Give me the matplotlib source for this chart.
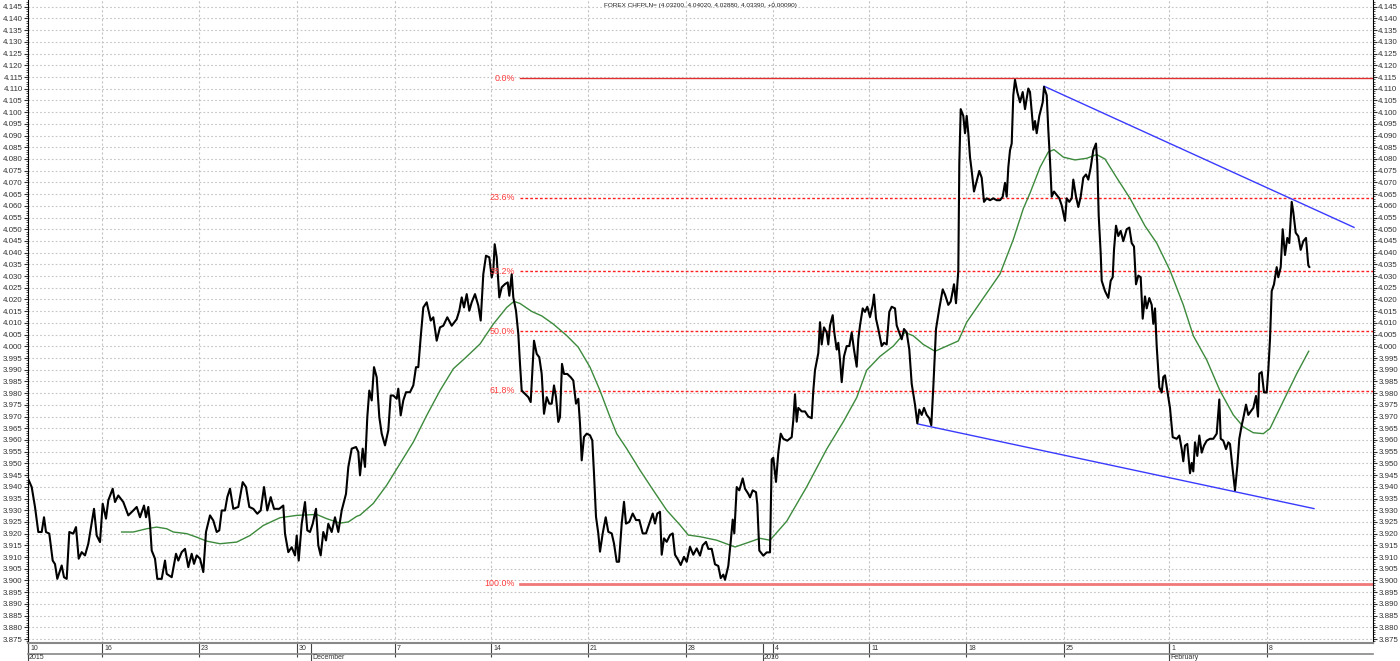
import numpy as np
import matplotlib
matplotlib.use('Agg')
import matplotlib.pyplot as plt
import matplotlib.transforms as mtransforms
from matplotlib.ticker import MultipleLocator, FormatStrFormatter

plt.rcParams['font.family'] = ['Liberation Sans', 'DejaVu Sans']

# bar positions (horizontal chart units) and CHFPLN price
price_x = [0, 3.7, 7, 10.3, 13.7, 16, 18, 21.3, 24.7, 27, 29.3, 33.7, 36, 38.7, 41.3, 45.3, 48, 50.7,
           53.7, 57, 60.3, 66, 68.7, 72, 74.7, 78, 80.3, 84.7, 87, 90.3, 95.3, 100.3, 105.3, 108.7, 112,
           116, 118, 120.3, 122, 123.7, 127, 129.3, 133.7, 137, 138.7, 143.7, 148, 150.3, 153.7, 157,
           160.3, 163.7, 166, 168.7, 172, 175.3, 178, 182, 185.3, 188.7, 191.3, 193.7, 197, 199.3, 202,
           205.3, 210.3, 214.7, 218, 221.3, 225.3, 229.3, 232.7, 236, 239.3, 242.7, 246, 251.3, 255.3,
           257, 260.3, 263.7, 267, 268.7, 270.7, 273.7, 277, 279.3, 282, 284.7, 288, 290.3, 292.7, 295.3,
           298, 300.3, 303.7, 307, 310.3, 313.7, 318, 320.3, 323.7, 328, 330.3,
           332, 334.7, 337, 339.3, 341.3, 343.7, 346, 348.7, 351.3, 353.7, 357, 360.3, 362.7, 365.3,
           368.7, 370.3, 372.7, 375.3, 378, 382, 385.3, 388, 390.3, 392.7, 395.3, 398.7, 402.7, 405.3,
           408.7, 412, 415.3, 419.3, 423.7, 428.7, 431.3, 433.7, 436, 438.7, 441.3, 443.7, 447, 450.3,
           452.7, 455.3, 458, 461.3, 463.7, 465.3, 466.7, 468.7, 471.3, 473.7, 477, 479.7, 481.3, 483.7,
           485.3, 488, 490.3, 492, 493.7, 497, 500.3, 502.7, 504.7, 506, 508.7, 511.3, 513.7, 516,
           518.7, 521.3, 523.7, 526, 528, 530.3, 532, 534, 536, 539.3, 542.7, 545.3, 548, 550.3, 552,
           553.7, 556, 558.7, 562, 564.3, 566, 568, 570.3, 572, 574.7, 577.7, 580.3, 583.7, 586, 588.7,
           591, 593.7, 596, 598, 601.3, 604.7, 608, 611.3, 614.7, 618, 621.3, 624.7, 627, 629.3, 632,
           633.7, 636, 638.7, 642, 644.7, 647, 650.3, 652.7, 656, 658.7, 662, 665.3, 668.7,
           672, 674.7, 678, 680.3, 683.7, 687, 690.3, 692.7, 695.3, 697, 700.3, 702.7, 704.7, 706.3,
           708.7, 711.3, 714.7, 717, 720.3, 722, 724.7, 728, 729.3, 731.3, 735.3, 738.7, 742, 743.7,
           745.3, 748, 750.3, 752.7, 755.3, 759.3, 763.7, 765.3, 767, 768.7, 770.3, 773.7, 777, 780.3,
           783.7, 785.3, 787, 790.3, 792, 793.7, 796, 798.7, 800.3, 802, 804.7, 806.3, 808.7, 810.3,
           812, 813.7, 816, 818.7, 821.3, 823.7, 826, 828.7, 830.3, 832, 834.7, 837, 839.3, 842, 844.7,
           846, 848, 850.3, 853.7, 856, 858.7, 861.3, 863.7, 867, 868.7, 871.3, 873.7, 876, 878.7,
           881.3, 883.7, 887, 889.3, 891.3, 893.7, 896, 898.7, 901.3, 903.3, 905.3, 908, 911.3, 914.7,
           917, 920.3, 922.7, 926, 928, 930.3, 931.3, 932.7, 935.3, 937, 938.7, 940.3, 942, 943.7, 946,
           948.7, 951.3, 953.7, 956, 958.7, 962, 965.3, 968.7, 972, 974.7, 977, 978.7, 980.3, 982,
           983.7, 985.3, 987, 989.3, 992, 994.7, 997, 1000.3,
           1002, 1005.3, 1007, 1008.7, 1011.3, 1014.7, 1016, 1018.7, 1020.3, 1022, 1023.7, 1026,
           1028.7, 1031.3, 1033.7, 1037, 1038.7, 1041.3, 1043.7, 1045.3, 1048, 1050.3, 1052.7, 1055.3,
           1058, 1060.3, 1062.7, 1065.3, 1068, 1069.3, 1070.7, 1072.7, 1073.7, 1077, 1080.3, 1082.7,
           1084.7, 1086, 1088, 1090.3, 1092.7, 1095.3, 1098.7, 1101.3, 1103.7, 1106, 1108, 1110.3,
           1112.7, 1114.7, 1117, 1118.7, 1121.3, 1123.7, 1125.3, 1127, 1128.7, 1131.3, 1133.7, 1135.3,
           1137, 1139.3, 1142, 1144.7, 1148.7, 1151.3, 1153.7, 1155.3, 1157, 1159.3, 1162, 1163.7,
           1165.3, 1167, 1169.3, 1171.3, 1173.7, 1176, 1178.7, 1182, 1185.3, 1188.7, 1191.3, 1192.7,
           1195.3, 1198, 1200.3, 1202, 1204.7, 1207, 1209.3, 1211.3, 1213.7, 1215.3, 1218, 1220.3,
           1222.7, 1225.3, 1228, 1230, 1231.3, 1233.7, 1236, 1238.7, 1240.3, 1242, 1243.7, 1246,
           1248.7, 1250.3, 1252.7, 1254.7, 1257, 1259.3, 1261.3, 1263.7, 1265.3, 1267.7, 1270.3,
           1272.7, 1275.3, 1278, 1280.3, 1281.3]
price_y = [3.9435, 3.9399, 3.9314, 3.9207, 3.9207, 3.9270, 3.9207, 3.9200, 3.9085, 3.9070, 3.9007,
           3.9064, 3.9014, 3.9007, 3.9207, 3.9200, 3.9228, 3.9093, 3.9121, 3.9107, 3.9157, 3.9306,
           3.9192, 3.9164, 3.9328, 3.9264, 3.9342, 3.9392, 3.9335, 3.9363, 3.9335, 3.9278, 3.9299,
           3.9314, 3.9270, 3.9320, 3.9270, 3.9314, 3.9242, 3.9128, 3.9093, 3.9007, 3.9007, 3.9085,
           3.9028, 3.9014, 3.9114, 3.9085, 3.9121, 3.9135, 3.9057, 3.9114, 3.9071, 3.9107, 3.9093,
           3.9036, 3.9207, 3.9278, 3.9256, 3.9207, 3.9214, 3.9299, 3.9299, 3.9356, 3.9392, 3.9306,
           3.9314, 3.9420, 3.9399, 3.9314, 3.9306, 3.9285, 3.9299, 3.9399, 3.9299, 3.9356, 3.9306,
           3.9306, 3.9320, 3.9200, 3.9121, 3.9142, 3.9107, 3.9192, 3.9085, 3.9242, 3.9335, 3.9214,
           3.9207, 3.9242, 3.9306, 3.9150, 3.9107, 3.9207, 3.9171, 3.9242, 3.9207, 3.9270, 3.9207,
           3.9299, 3.9370, 3.9484, 3.9563, 3.9570, 3.9549,
           3.9449, 3.9563, 3.9485, 3.9698, 3.9811, 3.9769, 3.9911, 3.9868, 3.9698, 3.9627, 3.9577,
           3.9641, 3.9790, 3.9790, 3.9776, 3.9819, 3.9705, 3.9769, 3.9804, 3.9804, 3.9833, 3.9911,
           3.9911, 4.0039, 4.0166, 4.0188, 4.0110, 4.0124, 4.0024, 4.0081, 4.0088, 4.0124, 4.0088,
           4.0116, 4.0152, 4.0209, 4.0166, 4.0223, 4.0152, 4.0188, 4.0223, 4.0174, 4.0110, 4.0308,
           4.0387, 4.0380, 4.0294, 4.0323, 4.0436, 4.0380, 4.0209, 4.0252, 4.0266, 4.0273, 4.0216,
           4.0308, 4.0209, 4.0152, 4.0053, 3.9925, 3.9811, 3.9797, 3.9783, 3.9762, 3.9925, 4.0024,
           3.9968, 3.9953, 3.9882, 3.9712, 3.9783, 3.9755, 3.9755, 3.9833, 3.9783, 3.9677, 3.9698,
           3.9925, 3.9882, 3.9882, 3.9868, 3.9854, 3.9755, 3.9776, 3.9669, 3.9513, 3.9613, 3.9627,
           3.9620, 3.9598, 3.9456, 3.9272, 3.9201, 3.9123, 3.9201, 3.9270, 3.9208, 3.9201, 3.9158,
           3.9080, 3.9080, 3.9243, 3.9336, 3.9243, 3.9250, 3.9286, 3.9258, 3.9258, 3.9201, 3.9201,
           3.9243, 3.9286, 3.9243, 3.9286, 3.9293, 3.9110, 3.9180, 3.9165, 3.9194, 3.9201, 3.9110,
           3.9087, 3.9066, 3.9101, 3.9080, 3.9144, 3.9110, 3.9137,
           3.9106, 3.9150, 3.9165, 3.9135, 3.9135, 3.9069, 3.9062, 3.9010, 3.9025, 3.9003, 3.9062,
           3.9165, 3.9260, 3.9201, 3.9399, 3.9385, 3.9436, 3.9392, 3.9370, 3.9355, 3.9385, 3.9377,
           3.9326, 3.9128, 3.9106, 3.9120, 3.9120, 3.9517, 3.9524, 3.9421, 3.9546, 3.9627, 3.9605,
           3.9597, 3.9612, 3.9685, 3.9795, 3.9678, 3.9737, 3.9722, 3.9722, 3.9700, 3.9693, 3.9810,
           3.9898, 3.9971, 4.0103, 4.0008, 4.0081, 4.0059, 4.0008, 4.0089, 4.0133, 4.0059, 3.9986,
           4.0015, 3.9942, 3.9847, 3.9957, 4.0001, 4.0001, 4.0059, 3.9986, 3.9913, 4.0030, 4.0089,
           4.0162, 4.0147, 4.0169, 4.0125, 4.0177, 4.0221, 4.0118, 4.0074, 4.0001, 4.0015, 4.0008,
           4.0147, 4.0169, 4.0162, 4.0089, 4.0059, 4.0030, 4.0074, 4.0059, 3.9986, 3.9840, 3.9751,
           3.9671, 3.9730, 3.9707, 3.9737, 3.9707, 3.9693, 3.9663, 3.9825, 4.0074, 4.0162, 4.0243,
           4.0221, 4.0177, 4.0191, 4.0265, 4.0184, 4.0323, 4.0778, 4.1013, 4.0984, 4.0910, 4.0984,
           4.0910, 4.0808, 4.0749, 4.0661, 4.0705, 4.0749, 4.0720, 4.0617, 4.0632, 4.0624, 4.0632,
           4.0624, 4.0624, 4.0639, 4.0698, 4.0639, 4.0764, 4.0837, 4.0866, 4.1072, 4.1138, 4.1086,
           4.1042, 4.1086, 4.1013, 4.1101,
           4.1086, 4.0925, 4.0962, 4.0910, 4.0984, 4.1042, 4.1108, 4.1072, 4.0925, 4.0793, 4.0639,
           4.0661, 4.0646, 4.0632, 4.0602, 4.0536, 4.0632, 4.0617, 4.0632, 4.0712, 4.0639, 4.0595,
           4.0639, 4.0720, 4.0734, 4.0712, 4.0764, 4.0837, 4.0866, 4.0778, 4.0558, 4.0397, 4.0280,
           4.0236, 4.0207, 4.0280, 4.0295, 4.0412, 4.0515, 4.0471, 4.0493, 4.0449, 4.0500, 4.0507,
           4.0441, 4.0426, 4.0265, 4.0302, 4.0295, 4.0118, 4.0213, 4.0162, 4.0206, 4.0177, 4.0096,
           4.0162, 4.0001, 3.9825, 3.9803, 3.9869, 3.9876, 3.9810, 3.9737, 3.9612, 3.9605, 3.9619,
           3.9561, 3.9509, 3.9576, 3.9583, 3.9458, 3.9502, 3.9466, 3.9590, 3.9532, 3.9619, 3.9546,
           3.9576, 3.9597, 3.9605, 3.9605, 3.9627, 3.9773, 3.9605, 3.9597, 3.9561, 3.9590, 3.9583,
           3.9473, 3.9385, 3.9488, 3.9605, 3.9663, 3.9693, 3.9751, 3.9707, 3.9722, 3.9737, 3.9788,
           3.9700, 3.9883, 3.9890, 3.9803, 3.9803, 3.9898, 4.0030, 4.0236, 4.0265, 4.0338, 4.0295,
           4.0338, 4.0500, 4.0390, 4.0463, 4.0441, 4.0617, 4.0573, 4.0485, 4.0470, 4.0412, 4.0449,
           4.0463, 4.0346, 4.0339]

# moving average (green)
ma_x = [93.7, 105.3, 118.7, 128.7, 138.7, 145.3, 158.7, 168.7, 178.7, 192, 208.7, 222, 235.3, 252,
        268.7, 288.7, 298.7, 312, 320.3, 328.7,
        332, 345.3, 358.7, 372, 385.3, 398.7, 412, 425.3, 438.7, 452, 465.3, 478.7, 486, 492, 503.7,
        513.7, 525.3, 538.7, 550.3, 562, 572, 582, 588.7, 598.7, 612, 625.3, 638.7, 652, 660.3,
        672, 688.7, 707, 722, 732, 742, 758.7, 778.7, 798.7, 815.3, 828.7, 838.7, 852, 865.3, 877,
        885.3, 895.3, 907, 918.7, 930.3, 938.7, 955.3, 972, 985.3, 995.3,
        1002, 1012, 1020.3, 1026, 1035.3, 1047, 1058.7, 1068.7, 1077, 1088.7, 1102, 1117, 1128.7,
        1142, 1155.3, 1165.3, 1178.7, 1192, 1205.3, 1215.3, 1225.3, 1235.3, 1242, 1255.3, 1268.7,
        1280.7]
ma_y = [3.9207, 3.9207, 3.9221, 3.9228, 3.9221, 3.9207, 3.9200, 3.9185, 3.9168, 3.9157, 3.9164,
        3.9192, 3.9235, 3.9268, 3.9278, 3.9282, 3.9264, 3.9245, 3.9250, 3.9274,
        3.9279, 3.9329, 3.9407, 3.9499, 3.9591, 3.9705, 3.9811, 3.9904, 3.9956, 4.0010, 4.0095,
        4.0166, 4.0192, 4.0183, 4.0149, 4.0130, 4.0095, 4.0046, 3.9996, 3.9911, 3.9811, 3.9698,
        3.9627, 3.9563, 3.9471, 3.9385, 3.9300, 3.9237, 3.9194,
        3.9187, 3.9172, 3.9143, 3.9165, 3.9180, 3.9172, 3.9253, 3.9400, 3.9561, 3.9678, 3.9781,
        3.9898, 3.9957, 4.0001, 4.0059, 4.0045, 4.0008, 3.9979, 4.0001, 4.0023, 4.0103, 4.0206,
        4.0309, 4.0456, 4.0588,
        4.0654, 4.0764, 4.0830, 4.0840, 4.0808, 4.0796, 4.0803, 4.0819, 4.0800, 4.0720, 4.0632,
        4.0514, 4.0441, 4.0324, 4.0177, 4.0045, 3.9942, 3.9810, 3.9707, 3.9656, 3.9631, 3.9627,
        3.9649, 3.9766, 3.9883, 3.9979]

# trend lines
upper_x = [1016, 1326]
upper_y = [4.1111, 4.0508]
lower_x = [890.3, 1286]
lower_y = [3.9668, 3.9307]

# fibonacci retracement
fib_high = 4.1145
fib_low = 3.8985
fib_ratios = [0.0, 0.236, 0.382, 0.5, 0.618, 1.0]
fib_start = 492

# x axis labels
week_pos = [0, 74, 171, 269, 367, 463, 560, 658, 745, 841, 938, 1036, 1141, 1239]
week_labels = ['10', '16', '23', '30', '7', '14', '21', '28', '4', '11', '18', '25', '1', '8']
period_pos = [0, 283, 735, 1141]
period_labels = ['2015', 'December', '2016', 'February']

title = 'FOREX CHFPLN= (4.03200, 4.04020, 4.02880, 4.03390, +0.00090)'

fig = plt.figure(figsize=(14, 6.61), dpi=100)
ax = fig.add_axes([28 / 1400, 18 / 661, 1345 / 1400, 643 / 661])
ax.set_xlim(0, 1345)
ax.set_ylim(3.8733, 4.1479)

# grid
ax.yaxis.set_major_locator(MultipleLocator(0.005))
ax.yaxis.set_minor_locator(MultipleLocator(0.001))
ax.yaxis.set_major_formatter(FormatStrFormatter('%.3f'))
ax.set_xticks(week_pos)
ax.set_xticklabels([])
ax.grid(True, which='major', axis='y', color='#c4c4c4', linestyle=(0, (1.5, 2)), linewidth=0.8)
ax.grid(True, which='major', axis='x', color='#c4c4c4', linestyle=(0, (2, 2)), linewidth=0.8)
ax.tick_params(axis='y', which='both', left=True, right=True, labelleft=True, labelright=True,
               labelsize=5.7, colors='#333333', pad=0.8)
ax.tick_params(axis='y', which='major', length=3)
ax.tick_params(axis='y', which='minor', length=1.5)
ax.tick_params(axis='x', which='major', length=10, width=0.8, color='#444444')
ax.spines['top'].set_visible(False)
ax.spines['bottom'].set_color('#888888')
ax.spines['bottom'].set_linewidth(1.5)

# fibonacci levels
rng = fib_high - fib_low
for r in fib_ratios:
    lvl = fib_high - r * rng
    if r == 0.0:
        ax.plot([fib_start, 1345], [lvl, lvl], color='#e03030', lw=1)
    elif r == 1.0:
        ax.plot([fib_start, 1345], [lvl, lvl], color='#f07878', lw=2)
    else:
        ax.plot([fib_start, 1345], [lvl, lvl], color='#ff2020', lw=1, linestyle=(0, (2, 1.5)))
    ax.text(fib_start - 5, lvl, '%.1f%%' % (r * 100), color='#ff3c3c', fontsize=6.4,
            ha='right', va='center')

ax.plot(ma_x, ma_y, color='#3c8a3c', lw=1)
ax.plot(upper_x, upper_y, color='#3a3aff', lw=1)
ax.plot(lower_x, lower_y, color='#3a3aff', lw=1)
ax.plot(price_x, price_y, color='black', lw=1.5)

ax.text(0.5, 0.992, title, transform=ax.transAxes, ha='center', va='center', fontsize=4.6,
        color='#222222')

# date labels below axis
trans = mtransforms.blended_transform_factory(ax.transData, ax.transAxes)
for p, lab in zip(week_pos, week_labels):
    ax.text(p + 2, -0.008, lab, transform=trans, fontsize=5, ha='left', va='center',
            color='#333333')
for p, lab in zip(period_pos, period_labels):
    ax.text(p + 1, -0.022, lab, transform=trans, fontsize=5, ha='left', va='center',
            color='#333333')
    ax.plot([p, p], [0, -0.03], transform=trans, color='#444444', lw=0.8, clip_on=False)
ax.plot([0, 1345], [-0.017, -0.017], transform=trans, color='#888888', lw=1.2, clip_on=False)

fig.savefig('out.png', dpi=100)
